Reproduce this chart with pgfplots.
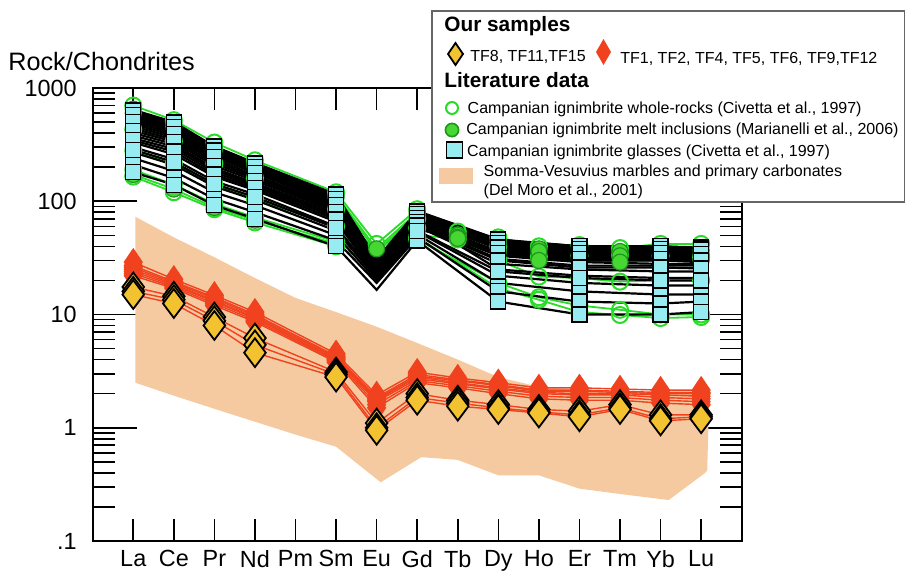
\documentclass[border=0pt]{standalone}
\usepackage{fontspec}
\setmainfont{Liberation Sans}
\usepackage{pgfplots}
\usepackage{pgfplotstable}
\pgfplotsset{compat=1.18}

\definecolor{band}{RGB}{246,202,160}
\definecolor{redmk}{RGB}{240,66,30}
\definecolor{yelmk}{RGB}{242,194,48}
\definecolor{cyanmk}{RGB}{150,236,240}
\definecolor{grn}{RGB}{40,220,40}
\definecolor{grnfill}{RGB}{70,215,50}
\definecolor{grndark}{RGB}{30,150,30}

% Somma-Vesuvius carbonates field (upper edge La->Lu, lower edge Lu->La)
\pgfplotstableread{
x y
1.05 73
2 48
3 32
4 21
5 14
6 10.5
7 7.8
8 5.6
9 4.0
10 2.8
11 2.3
12 2.15
13 2.1
14 2.05
15.2 2.05
15.15 0.42
15.1 0.40
14.2 0.23
13 0.26
12 0.29
11 0.38
10 0.38
9 0.52
8.1 0.55
7.1 0.33
6 0.68
5 0.87
4 1.13
3 1.47
2 1.92
1.05 2.5
}\band

% Campanian ignimbrite glasses
\pgfplotstableread{
x g1 g2 g3 g4 g5 g6 g7 g8 g9 g10 g11 g12 g13 g14 g15 g16 g17 g18 g19 g20 g21 g22 g23 g24
1 640 620 600 560 540 520 480 460 440 400 380 360 330 300 270 240 210 180 630 580 500 420 345 285
2 500 485 470 440 425 410 380 365 350 320 305 290 260 235 210 185 160 140 492 455 395 335 275 222
3 305 298 290 270 262 255 235 225 215 195 188 180 165 150 135 120 105 92 302 280 245 205 172 142
4 218 212 205 195 190 185 170 164 158 145 140 135 125 115 103 92 80 70 215 200 178 152 130 109
6 115 112 108 102 99 96 90 87 84 78 75 72 66 60 55 50 45 40 113 105 93 81 69 58
7 30 30 29 28 27 27 26 25 25 24 23 23 22 21 21 20 19 16.5 31 29 26 24 23 22
8 82 80 78 75 73 72 70 69 68 65 63 62 60 57 54 51 48 45 81 77 71 66 61 55
10 46 45 44 42 41 40 38 25 36 34 33 31 28 37 22 19 16 13 45.5 43 39 35 30 24
12 40 39 39 37 36.5 36 34 22 32 30 29 27 25 33 19 16 13 10 40 38 35 31 26 21
14 40 39 39 37 36.5 36 34 21 32 30 28 27 24 33 18 15 12.5 10 40 38 35 31 26 20
15 39 38 38 37 36 35 33 21 31 29 28 27 24 32 18 15 13 10.5 38.5 37.5 34 30 25.5 20
}\glass

% Campanian ignimbrite whole-rocks
\pgfplotstableread{
x w1 w2 w3 w4 w5
1 700 430 280 165 190
2 520 340 215 120 140
3 330 215 140 85 95
4 230 160 105 65 72
6 120 85 60 40 44
7 42 36 32 27 29
8 85 70 58 46 48
9 54 50 46 nan nan
10 48 40 30 19 17
11 40 32.4 21.6 14.2 13.5
12 41 33 21 12 10.5
13 38.6 33.5 19.5 11 9.9
14 42 33 20 10 9.3
15 42 32 20 10 9.5
}\wrock

% Campanian ignimbrite melt inclusions
\pgfplotstableread{
x m1 m2 m3
1 650 600 172
2 490 455 128
3 300 285 88
4 215 205 68
6 113 108 42
7 38 36 34
8 80 77 50
9 50 48 47
10 44 42 36
11 38 36 30
12 38 35 30
13 36 33 29
14 38 35 30
15 37 34 30
}\melt

% TF1, TF2, TF4, TF5, TF6, TF9, TF12
\pgfplotstableread{
x r1 r2 r3 r4 r5 r6 r7
1 29 27 26 25 24 23 22
2 20.5 19.5 19 18.5 18 17.5 17
3 14.8 14.2 13.8 13.3 13 12.5 12
4 10.5 10.0 9.7 9.4 9.2 8.9 8.6
6 4.5 4.3 4.2 4.1 4.0 3.9 3.8
7 1.95 1.85 1.8 1.75 1.7 1.6 1.5
8 3.1 2.95 2.85 2.8 2.7 2.6 2.5
9 2.75 2.65 2.6 2.5 2.45 2.35 2.25
10 2.5 2.4 2.35 2.25 2.2 2.1 2.0
11 2.25 2.15 2.1 2.05 2.0 1.9 1.8
12 2.25 2.15 2.1 2.0 1.95 1.85 1.75
13 2.2 2.1 2.05 2.0 1.95 1.85 1.75
14 2.15 2.05 2.0 1.95 1.85 1.75 1.65
15 2.15 2.05 2.0 1.9 1.8 1.7 1.6
}\tfred

% TF8, TF11, TF15
\pgfplotstableread{
x y1 y2 y3
1 17.5 16 15
2 14.5 13.5 12.5
3 9.5 8.8 8.0
4 6.2 5.4 4.6
6 3.1 2.95 2.8
7 1.1 1.0 0.95
8 2.0 1.85 1.75
9 1.75 1.65 1.55
10 1.6 1.5 1.45
11 1.45 1.38 1.35
12 1.4 1.3 1.25
13 1.6 1.5 1.45
14 1.3 1.2 1.15
15 1.3 1.25 1.2
}\tfyel

\begin{document}
\begin{tikzpicture}
\begin{scope}[x=0.5pt,y=-0.5pt]
\useasboundingbox (0,0) rectangle (906,570);
\end{scope}
\begin{axis}[
    at={(46.35pt,-270.5pt)}, anchor=south west,
    scale only axis,
    width=324.5pt, height=226.5pt,
    xmin=0, xmax=16,
    ymode=log, ymin=0.1, ymax=1000,
    xtick={1,...,15},
    xticklabels={La,Ce,Pr,Nd,Pm,Sm,Eu,Gd,Tb,Dy,Ho,Er,Tm,Yb,Lu},
    ytick={0.1,1,10,100,1000},
    yticklabels={.1,1,10,100,1000},
    tick align=inside,
    major tick length=11pt, minor tick length=11pt,
    ytick style={/pgfplots/major tick length=22pt},
    every tick/.style={black, line width=0.8pt},
    axis line style={line width=1pt},
    tick label style={font=\fontsize{11.7}{13}\selectfont},
    yticklabel style={inner sep=0pt, xshift=-7.8pt},
    xticklabel style={inner sep=0pt, yshift=-4.5pt},
]
\addplot[fill=band, draw=none] table[x=x, y=y] {\band};

% green lines under the glass bundle
\pgfplotsinvokeforeach{1,...,5}{
  \addplot[grn, line width=0.9pt, mark=none] table[x=x, y=w#1] {\wrock};
}
\pgfplotsinvokeforeach{1,...,3}{
  \addplot[grn, line width=0.9pt, mark=none] table[x=x, y=m#1] {\melt};
}
\pgfplotsinvokeforeach{1,...,24}{
  \addplot[black, line width=1.1pt, mark=none] table[x=x, y=g#1] {\glass};
}
% green symbols (most Eu symbols hidden in the bundle)
\addplot[only marks, mark=o, mark size=4pt,
  mark options={grn, line width=1pt}] table[x=x, y=w1] {\wrock};
\pgfplotsinvokeforeach{2,...,5}{
  \addplot[only marks, mark=o, mark size=4pt,
    mark options={grn, line width=1pt},
    skip coords between index={5}{6}] table[x=x, y=w#1] {\wrock};
}
\addplot[only marks, mark=*, mark size=4pt,
  mark options={draw=grndark, fill=grnfill, line width=0.6pt}] table[x=x, y=m1] {\melt};
\pgfplotsinvokeforeach{2,3}{
  \addplot[only marks, mark=*, mark size=4pt,
    mark options={draw=grndark, fill=grnfill, line width=0.6pt},
    skip coords between index={5}{6}] table[x=x, y=m#1] {\melt};
}
\pgfplotsinvokeforeach{1,...,24}{
  \addplot[only marks, mark=square*, mark size=3.75pt,
    mark options={draw=black, fill=cyanmk, line width=0.6pt},
    skip coords between index={5}{6}] table[x=x, y=g#1] {\glass};
}
\pgfplotsinvokeforeach{1,...,7}{
  \addplot[redmk, line width=0.7pt, mark=diamond*, mark size=6.5pt,
    mark options={draw=redmk, fill=redmk, xscale=0.9}] table[x=x, y=r#1] {\tfred};
}
\pgfplotsinvokeforeach{1,...,3}{
  \addplot[redmk, line width=0.7pt, mark=diamond*, mark size=7.2pt,
    mark options={draw=black, fill=yelmk, line width=0.9pt}] table[x=x, y=y#1] {\tfyel};
}
\end{axis}

\begin{scope}[x=0.5pt,y=-0.5pt]
\node[anchor=base west, inner sep=0, font=\fontsize{12.6}{14}\selectfont] at (8,70) {Rock/Chondrites};

% legend
\draw[draw=black!60, line width=0.7pt, fill=white] (432,11) rectangle (904.5,202);
\node[anchor=base west, inner sep=0, font=\fontsize{10.4}{12}\selectfont\bfseries] at (444,32) {Our samples};
\draw[fill=yelmk, draw=black, line width=0.9pt] (455.5,43) -- (463,54) -- (455.5,65) -- (448,54) -- cycle;
\node[anchor=base west, inner sep=0, font=\fontsize{8}{9.6}\selectfont] at (470,61.7) {TF8, TF11,TF15};
\fill[redmk] (603.5,39) -- (611,52) -- (603.5,65) -- (596,52) -- cycle;
\node[anchor=base west, inner sep=0, font=\fontsize{8}{9.6}\selectfont] at (620,63.3) {TF1, TF2, TF4, TF5, TF6, TF9,TF12};
\node[anchor=base west, inner sep=0, font=\fontsize{10.4}{12}\selectfont\bfseries] at (444,87) {Literature data};
\draw[grn, line width=1pt] (452,108) circle[radius=3pt];
\node[anchor=base west, inner sep=0, font=\fontsize{8}{9.6}\selectfont] at (467.3,113.3) {Campanian ignimbrite whole-rocks (Civetta et al., 1997)};
\draw[grndark, fill=grnfill, line width=0.8pt] (452,130) circle[radius=3.3pt];
\node[anchor=base west, inner sep=0, font=\fontsize{8}{9.6}\selectfont] at (466,134.3) {Campanian ignimbrite melt inclusions (Marianelli et al., 2006)};
\draw[black, fill=cyanmk, line width=0.9pt] (446.5,142) rectangle (462.5,158);
\node[anchor=base west, inner sep=0, font=\fontsize{8}{9.6}\selectfont] at (466.7,156.7) {Campanian ignimbrite glasses (Civetta et al., 1997)};
\fill[band] (439,168) rectangle (473,184);
\node[anchor=base west, inner sep=0, font=\fontsize{8}{9.6}\selectfont] at (483.3,176.7) {Somma-Vesuvius marbles and primary carbonates};
\node[anchor=base west, inner sep=0, font=\fontsize{8}{9.6}\selectfont] at (483.3,195.7) {(Del Moro et al., 2001)};
\end{scope}
\end{tikzpicture}
\end{document}
